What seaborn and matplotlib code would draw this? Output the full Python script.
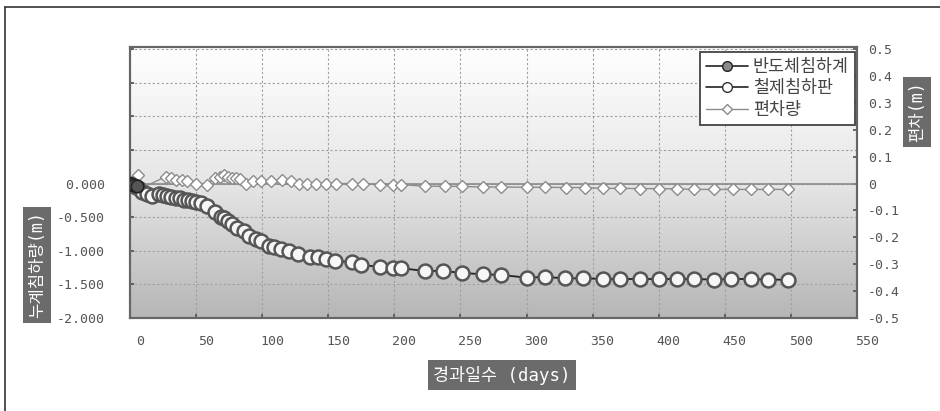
import numpy as np
import pandas as pd
import matplotlib
matplotlib.use("Agg")
import matplotlib.pyplot as plt
import matplotlib.transforms as mtrans
from matplotlib.lines import Line2D
from matplotlib.colors import LinearSegmentedColormap
import seaborn as sns

# ---------------- data ----------------
semi_days = [0, 1, 3, 5]
semi_vals = [0.0, -0.01, -0.02, -0.04]

steel_days = [0, 3, 6, 9, 13, 17, 22, 25, 28, 31, 35, 38, 41, 44, 47, 50, 54, 58, 64,
              69, 71, 74, 77, 81, 86, 90, 95, 99, 105, 109, 114, 120, 127, 136, 142,
              148, 155, 168, 175, 189, 199, 205, 223, 237, 251, 267, 281, 300, 314,
              329, 343, 358, 371, 386, 400, 414, 427, 442, 455, 470, 483, 498]
steel_vals = [0.0, -0.03, -0.07, -0.12, -0.15, -0.18, -0.16, -0.17, -0.19, -0.20, -0.21,
              -0.22, -0.24, -0.25, -0.26, -0.27, -0.29, -0.34, -0.43,
              -0.50, -0.52, -0.56, -0.60, -0.66, -0.70, -0.78, -0.82, -0.86, -0.93,
              -0.95, -0.97, -1.00, -1.05, -1.10, -1.10,
              -1.12, -1.15, -1.17, -1.21, -1.24, -1.26, -1.26, -1.30, -1.30, -1.33,
              -1.35, -1.36, -1.40, -1.39, -1.41, -1.41, -1.42, -1.42, -1.42, -1.42,
              -1.42, -1.42, -1.43, -1.42, -1.42, -1.43, -1.43]

dev_days = [0, 3, 6, 10, 27, 31, 35, 39, 43, 50, 58, 64, 68, 71, 74, 77, 80, 83, 88,
            93, 99, 107, 115, 122, 128, 134, 141, 148, 156, 168, 176, 189, 199, 205,
            223, 238, 251, 267, 281, 300, 314, 330, 344, 358, 371, 386, 400, 414,
            427, 442, 456, 470, 483, 498]
dev_vals = [0.0, 0.01, 0.03, -0.015, 0.026, 0.02, 0.012, 0.012, 0.01, 0.0, -0.005, 0.02,
            0.025, 0.03, 0.025, 0.022, 0.02, 0.015, 0.0,
            0.008, 0.01, 0.01, 0.012, 0.008, 0.0, 0.0, 0.0, 0.0, 0.0, 0.0, -0.002,
            -0.004, -0.004, -0.004,
            -0.01, -0.01, -0.011, -0.013, -0.013, -0.014, -0.014, -0.015, -0.015,
            -0.018, -0.018, -0.019, -0.019, -0.02,
            -0.022, -0.022, -0.022, -0.022, -0.022, -0.022]

series_names = ["반도체침하계", "철제침하판", "편차량"]
left_ticks = [0.0, -0.5, -1.0, -1.5, -2.0]
right_ticks = [0.5, 0.4, 0.3, 0.2, 0.1, 0.0, -0.1, -0.2, -0.3, -0.4, -0.5]
x_ticks = [0, 50, 100, 150, 200, 250, 300, 350, 400, 450, 500, 550]

ylabel_left = "누계침하량(m)"
ylabel_right = "편차(m)"
xlabel = "경과일수 (days)"

# ---------------- style ----------------
sns.set_theme(style="white")
plt.rcParams['font.family'] = ['Noto Sans CJK KR', 'DejaVu Sans']
label_family = ['DejaVu Sans Mono', 'Noto Sans CJK KR']

fig = plt.figure(figsize=(9.4, 4.11), dpi=100)
fig.patch.set_facecolor("white")
ax = fig.add_axes([130 / 940, 1 - 318 / 411, (857 - 130) / 940, (318 - 47) / 411])

# gradient background
grad = np.linspace(0, 1, 256).reshape(-1, 1)
cmap = LinearSegmentedColormap.from_list("bg", ["#ffffff", "#e6e6e6", "#b6b6b6"])
ax.imshow(grad, extent=[0, 1, 0, 1], transform=ax.transAxes, aspect="auto",
          cmap=cmap, zorder=0, interpolation="bicubic")

df_steel = pd.DataFrame({"day": steel_days, "val": steel_vals})
df_semi = pd.DataFrame({"day": semi_days, "val": semi_vals})
df_dev = pd.DataFrame({"day": dev_days, "val": dev_vals})

ax2 = ax.twinx()

# zero line (right axis)
ax2.axhline(0, color="#8a8a8a", lw=1.2, zorder=1)

sns.lineplot(data=df_dev, x="day", y="val", ax=ax2, sort=False, estimator=None,
             color="#8c8c8c", lw=1.0, marker="D", markersize=6,
             markerfacecolor="white", markeredgecolor="#8c8c8c", markeredgewidth=1.0,
             zorder=3)
sns.lineplot(data=df_steel, x="day", y="val", ax=ax2, sort=False, estimator=None,
             color="#222222", lw=1.3, marker="o", markersize=10,
             markerfacecolor="#f6f6f6", markeredgecolor="#555555", markeredgewidth=1.8,
             zorder=4, transform=ax.transData)
sns.lineplot(data=df_semi, x="day", y="val", ax=ax2, sort=False, estimator=None,
             color="#222222", lw=1.2, marker="o", markersize=9,
             markerfacecolor="#555555", markeredgecolor="#222222", markeredgewidth=1.2,
             zorder=5, transform=ax.transData)

# axes limits
ax.set_xlim(0, 550)
ax.set_ylim(-2.0, 2.03)
ax2.set_xlim(0, 550)
ax2.set_ylim(-0.5, 0.5075)

# grid
ax.set_xticks(x_ticks)
yt = np.arange(-2.0, 2.01, 0.5)
ax.set_yticks(yt)
ax.set_yticklabels([("%.3f" % v if v <= 0 else "") for v in yt])
ax.grid(True, color="#a0a0a0", ls=(0, (2, 2)), lw=0.8)
for gl in ax.get_xgridlines() + ax.get_ygridlines():
    gl.set_zorder(1)

ax2.set_yticks(right_ticks)
ax2.set_yticklabels([("%g" % v) for v in right_ticks])
ax2.grid(False)

ax.tick_params(axis="y", direction="in", length=3, color="#555555", pad=18,
               labelcolor="#555555", left=True)
ax.tick_params(axis="x", direction="in", length=3, color="#555555", pad=12,
               labelcolor="#555555", bottom=True)
ax2.tick_params(axis="y", direction="in", length=3, color="#555555", pad=8,
                labelcolor="#555555", right=True)
for lab in ax.get_yticklabels() + ax.get_xticklabels() + ax2.get_yticklabels():
    lab.set_fontfamily("DejaVu Sans Mono")
    lab.set_fontsize(9.5)

offset = mtrans.ScaledTranslation(10 / 100, 0, fig.dpi_scale_trans)
for lab in ax.get_xticklabels():
    lab.set_transform(lab.get_transform() + offset)

ax.set_xlabel("")
ax.set_ylabel("")
ax2.set_xlabel("")
ax2.set_ylabel("")

for a in (ax, ax2):
    for s in a.spines.values():
        s.set_color("#666666")
        s.set_linewidth(1.5)

# legend
handles = [
    Line2D([], [], color="#222222", lw=1.2, marker="o", markersize=7,
           markerfacecolor="#8a8a8a", markeredgecolor="#222222"),
    Line2D([], [], color="#222222", lw=1.2, marker="o", markersize=7,
           markerfacecolor="white", markeredgecolor="#333333"),
    Line2D([], [], color="#8c8c8c", lw=1.0, marker="D", markersize=5.5,
           markerfacecolor="white", markeredgecolor="#8c8c8c"),
]
leg = ax2.legend(handles, series_names, loc="upper right", bbox_to_anchor=(0.997, 0.983),
                 borderaxespad=0, frameon=True, fancybox=False, fontsize=12.5,
                 handlelength=2.4, handletextpad=0.3, labelspacing=0.2,
                 borderpad=0.35)
leg.get_frame().set_edgecolor("#444444")
leg.get_frame().set_linewidth(1.3)
leg.get_frame().set_facecolor("white")
leg.get_frame().set_alpha(1)
for t in leg.get_texts():
    t.set_color("#444444")

# label boxes
box = dict(boxstyle="square,pad=0.3", fc="#6b6b6b", ec="none")
fig.text(37 / 940, 1 - 265 / 411, ylabel_left, rotation=90, ha="center", va="center",
         color="white", fontsize=12, bbox=box, family=label_family)
fig.text(917 / 940, 1 - 112 / 411, ylabel_right, rotation=90, ha="center", va="center",
         color="white", fontsize=12, bbox=box, family=label_family)
fig.text(502 / 940, 1 - 375 / 411, xlabel, ha="center", va="center",
         color="white", fontsize=12.5, bbox=box, family=label_family)

# outer frame lines (top and left)
fig.add_artist(Line2D([5 / 940, 1.0], [1 - 7 / 411, 1 - 7 / 411], color="#333333", lw=1.2,
                      transform=fig.transFigure))
fig.add_artist(Line2D([5 / 940, 5 / 940], [0.0, 1 - 7 / 411], color="#333333", lw=1.2,
                      transform=fig.transFigure))

fig.savefig("out.png", dpi=100)
